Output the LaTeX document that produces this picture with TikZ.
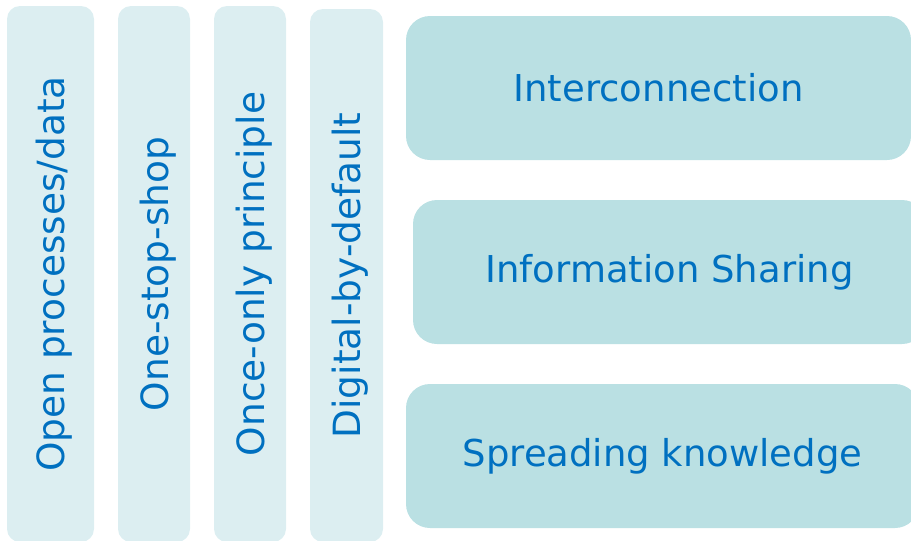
\documentclass[tikz,border=0pt]{standalone}
\usepackage{fontspec}
\setmainfont{DejaVu Sans}
\definecolor{pillarfill}{HTML}{DCEEF1}
\definecolor{bandfill}{HTML}{BAE0E3}
\definecolor{textblue}{HTML}{0070C0}
% text set a little lower in a pillar
\newcommand{\pillartext}[1]{\raisebox{-4pt}[\height][\depth]{#1}}
\begin{document}
\begin{tikzpicture}[x=1pt, y=-1pt]

    % let's define some key values
    \def\bandheight{144}
    \def\pillarbottom{542}

    % Styles
    \tikzstyle{pillar}=[rounded corners=13pt, fill=pillarfill, text=textblue,
        rotate=90, inner sep=0pt, outer sep=0pt,
        font=\fontsize{37.5}{42}\selectfont]
    \tikzstyle{band}=[rounded corners=24pt, fill=bandfill, text=textblue,
        inner sep=0pt, outer sep=0pt, minimum height=\bandheight,
        font=\fontsize{37}{42}\selectfont]

    % page size
    \useasboundingbox (0,0) rectangle (911,541);
    \clip (0,0) rectangle (911,541);

    % vertical pillars
    \node (open) [pillar, minimum width=\pillarbottom-6, minimum height=87]
        at (50.5, 274) {\pillartext{Open processes/data}};
    \node (onestop) [pillar, minimum width=\pillarbottom-6, minimum height=72]
        at (154, 274) {\pillartext{One-stop-shop}};
    \node (onceonly) [pillar, minimum width=\pillarbottom-6, minimum height=72]
        at (250, 274) {\pillartext{Once-only principle}};
    \node (digital) [pillar, minimum width=\pillarbottom-9, minimum height=73]
        at (346.5, 275.5) {\pillartext{Digital-by-default}};

    % horizontal bands
    \node (interconnection) [band, minimum width=505] at (658.5, 88)
        {Interconnection};
    \node (sharing) [band, minimum width=513] at (669.5, 272)
        {Information Sharing};
    \node (spreading) [band, minimum width=513] at (662.5, 456)
        {Spreading knowledge};

\end{tikzpicture}
\end{document}
